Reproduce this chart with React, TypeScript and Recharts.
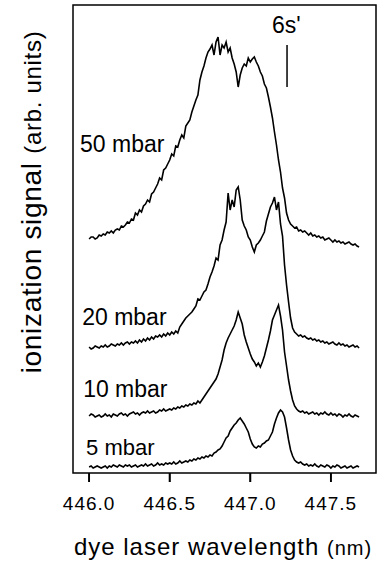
import { LineChart, Line, XAxis, YAxis, ReferenceArea, ReferenceLine, ReferenceDot } from 'recharts';

// wavelength grid (nm), 0.0125 nm steps
const wavelength = [
  446.0, 446.0125, 446.025, 446.0375, 446.05, 446.0625, 446.075, 446.0875,
  446.1, 446.1125, 446.125, 446.1375, 446.15, 446.1625, 446.175, 446.1875,
  446.2, 446.2125, 446.225, 446.2375, 446.25, 446.2625, 446.275, 446.2875,
  446.3, 446.3125, 446.325, 446.3375, 446.35, 446.3625, 446.375, 446.3875,
  446.4, 446.4125, 446.425, 446.4375, 446.45, 446.4625, 446.475, 446.4875,
  446.5, 446.5125, 446.525, 446.5375, 446.55, 446.5625, 446.575, 446.5875,
  446.6, 446.6125, 446.625, 446.6375, 446.65, 446.6625, 446.675, 446.6875,
  446.7, 446.7125, 446.725, 446.7375, 446.75, 446.7625, 446.775, 446.7875,
  446.8, 446.8125, 446.825, 446.8375, 446.85, 446.8625, 446.875, 446.8875,
  446.9, 446.9125, 446.925, 446.9375, 446.95, 446.9625, 446.975, 446.9875,
  447.0, 447.0125, 447.025, 447.0375, 447.05, 447.0625, 447.075, 447.0875,
  447.1, 447.1125, 447.125, 447.1375, 447.15, 447.1625, 447.175, 447.1875,
  447.2, 447.2125, 447.225, 447.2375, 447.25, 447.2625, 447.275, 447.2875,
  447.3, 447.3125, 447.325, 447.3375, 447.35, 447.3625, 447.375, 447.3875,
  447.4, 447.4125, 447.425, 447.4375, 447.45, 447.4625, 447.475, 447.4875,
  447.5, 447.5125, 447.525, 447.5375, 447.55, 447.5625, 447.575, 447.5875,
  447.6, 447.6125, 447.625, 447.6375, 447.65, 447.6625, 447.675,
];

// ionization signal above each trace's own baseline (arb. units)
const signal50 = [
  -1, 1, 1, -1, 0, 3, 2, 4, 3, 6,
  5, 7, 5, 8, 9, 8, 12, 11, 13, 16,
  15, 19, 18, 25, 23, 28, 26, 32, 34, 38,
  36, 44, 46, 50, 54, 60, 58, 68, 70, 74,
  78, 84, 82, 92, 91, 98, 103, 100, 112, 115,
  118, 126, 132, 138, 143, 158, 166, 172, 180, 186,
  189, 193, 183, 196, 201, 183, 193, 190, 196, 186,
  190, 180, 174, 166, 151, 163, 170, 174, 172, 180,
  176, 179, 181, 176, 172, 166, 162, 154, 150, 141,
  131, 120, 106, 93, 78, 66, 50, 40, 25, 18,
  14, 12, 10, 11, 7, 8, 6, 7, 5, 3,
  5, 2, 3, 1, 2, 0, 1, -2, -1, 0,
  -2, -4, -2, -4, -3, -5, -4, -6, -5, -4,
  -6, -7, -6, -8, -9,
];
const signal20 = [
  -1, -3, -2, 0, -1, -2, 0, -1, 1, -1,
  0, 2, 1, 0, 2, 1, 3, 1, 3, 4,
  2, 4, 3, 5, 3, 6, 4, 7, 5, 8,
  6, 9, 7, 10, 9, 11, 9, 12, 10, 13,
  11, 14, 12, 15, 13, 19, 22, 25, 28, 30,
  32, 34, 37, 40, 47, 46, 50, 54, 56, 62,
  69, 74, 80, 88, 86, 101, 106, 116, 124, 153,
  136, 146, 139, 156, 159, 146, 126, 120, 116, 109,
  106, 99, 94, 101, 103, 106, 110, 114, 125, 132,
  139, 143, 149, 136, 144, 122, 110, 81, 61, 44,
  28, 18, 14, 12, 10, 11, 9, 10, 8, 7,
  8, 6, 7, 5, 6, 4, 5, 3, 4, 2,
  3, 4, 2, 1, 3, 1, 2, 0, 1, -1,
  0, 1, -1, 0, -2,
];
const signal10 = [
  -1, 1, 0, -2, -1, 0, -2, -1, 1, -1,
  0, -2, 1, 0, -1, 1, 2, 0, 1, -1,
  1, 2, 3, 1, 2, 0, 2, 3, 2, 4,
  2, 3, 4, 2, 3, 5, 4, 6, 4, 5,
  6, 5, 7, 6, 8, 7, 9, 8, 10, 9,
  11, 10, 12, 11, 14, 12, 15, 18, 21, 24,
  27, 30, 33, 36, 41, 48, 55, 65, 72, 77,
  81, 85, 89, 95, 103, 97, 91, 80, 73, 67,
  61, 56, 53, 49, 52, 48, 53, 59, 67, 75,
  84, 95, 100, 105, 110, 99, 85, 63, 49, 35,
  24, 15, 9, 6, 4, 3, 4, 2, 3, 1,
  2, 3, 1, 2, 0, 2, 1, 3, 1, 0,
  2, 0, 1, -1, 1, 0, -2, 0, -1, 1,
  -1, -2, 0, -1, -2,
];
const signal5 = [
  0, 1, -1, 0, 1, 0, -1, 0, 1, -1,
  1, 0, 2, 1, 0, 2, 1, 0, 2, 1,
  2, 0, 1, 2, 0, 1, 2, 1, 3, 1,
  2, 3, 1, 2, 4, 2, 3, 2, 4, 3,
  4, 3, 5, 3, 4, 6, 4, 5, 6, 5,
  7, 6, 8, 7, 9, 8, 10, 9, 11, 10,
  12, 11, 14, 15, 17, 18, 21, 25, 29, 31,
  36, 39, 42, 44, 47, 49, 46, 43, 39, 35,
  28, 23, 20, 19, 21, 20, 23, 24, 26, 27,
  31, 35, 43, 49, 54, 57, 55, 50, 39, 27,
  17, 11, 7, 5, 4, 5, 3, 2, 3, 1,
  2, 1, 3, 1, 0, 2, 1, 0, 2, 1,
  -1, 1, 0, 2, 1, -1, 0, 1, -1, 0,
  1, -1, 0, 1, 0,
];

// vertical offsets used to stack the traces
const offsets = [235, 127, 58, 6];
const traceNames = ['50 mbar', '20 mbar', '10 mbar', '5 mbar'];
const xTicks = [446.0, 446.5, 447.0, 447.5];

const series = [signal50, signal20, signal10, signal5];
const keys = ['p50', 'p20', 'p10', 'p5'];

const data = wavelength.map((w, i) => {
  const row: Record<string, number> = { w };
  series.forEach((s, j) => {
    row[keys[j]] = s[i] + offsets[j];
  });
  return row;
});

const X_DOMAIN: [number, number] = [445.9, 447.78];
// frame spans 0..468; the strip below 0 holds the outward tick marks
const FRAME: [number, number] = [0, 468];
const Y_DOMAIN: [number, number] = [-9, 468];
const FONT = '"Liberation Sans", Arial, Helvetica, sans-serif';

// where the trace names sit (data coords, left edge / baseline)
const labelSpots = [
  { x: 445.944, y: 321, size: 23 },
  { x: 445.957, y: 148, size: 23 },
  { x: 445.963, y: 76, size: 23 },
  { x: 445.981, y: 18, size: 22 },
];

const textLabel = (text: string, size: number) => (props: any) => {
  const vb = props.viewBox || {};
  return (
    <text x={vb.x} y={vb.y} fontSize={size} fontFamily={FONT} fill="#000">
      {text}
    </text>
  );
};

// outward tick mark and value, hung below the frame at the tick position
const tickValue = (v: number) => (props: any) => {
  const vb = props.viewBox || {};
  return (
    <g>
      <rect x={vb.x - 0.9} y={vb.y} width={1.8} height={9} fill="#000" />
      <text
        x={vb.x}
        y={vb.y + 37}
        textAnchor="middle"
        fontSize={19}
        letterSpacing={1}
        fontFamily={FONT}
        fill="#000"
      >
        {v.toFixed(1)}
      </text>
    </g>
  );
};

const AxisTitles = () => (
  <g>
    <text x={223} y={555} textAnchor="middle" fontSize={24} letterSpacing={1} fontFamily={FONT} fill="#000">
      dye laser wavelength <tspan fontSize={20}>(nm)</tspan>
    </text>
    <text
      x={41}
      y={202}
      transform="rotate(-90 41 202)"
      textAnchor="middle"
      fontSize={28}
      letterSpacing={0.7}
      fontFamily={FONT}
      fill="#000"
    >
      ionization signal{'  '}
      <tspan fontSize={24}>(arb. units)</tspan>
    </text>
  </g>
);

export default function App() {
  return (
    <div style={{ position: 'absolute', left: 0, top: 0, background: '#fff' }}>
      <LineChart
        width={378}
        height={565}
        data={data}
        margin={{ top: 5, right: 2, bottom: 0, left: 73 }}
      >
        <XAxis
          dataKey="w"
          type="number"
          domain={X_DOMAIN}
          ticks={xTicks}
          height={83}
          axisLine={false}
          tickLine={false}
          tick={false}
          label={{ content: () => <AxisTitles /> }}
        />
        <YAxis
          type="number"
          domain={Y_DOMAIN}
          allowDataOverflow
          width={0}
          axisLine={false}
          tickLine={false}
          tick={false}
        />
        <ReferenceArea
          x1={X_DOMAIN[0]}
          x2={X_DOMAIN[1]}
          y1={FRAME[0]}
          y2={FRAME[1]}
          fill="none"
          stroke="#000"
          strokeWidth={1.5}
        />
        {keys.map((k) => (
          <Line
            key={k}
            dataKey={k}
            type="linear"
            stroke="#000"
            strokeWidth={1.6}
            dot={false}
            isAnimationActive={false}
          />
        ))}
        <ReferenceLine
          segment={[{ x: 447.228, y: 428 }, { x: 447.228, y: 386 }]}
          stroke="#000"
          strokeWidth={1.5}
        />
        {xTicks.map((t) => (
          <ReferenceLine
            key={'tl' + t}
            segment={[{ x: t, y: FRAME[0] }, { x: t, y: Y_DOMAIN[0] }]}
            ifOverflow="visible"
            stroke="#000"
            strokeWidth={1.6}
          />
        ))}
        {xTicks.map((t) => (
          <ReferenceDot
            key={t}
            x={t}
            y={FRAME[0]}
            r={0}
            fill="none"
            stroke="none"
            label={{ content: tickValue(t) }}
          />
        ))}
        <ReferenceDot x={447.135} y={440} r={0} fill="none" stroke="none" label={{ content: textLabel("6s'", 23) }} />
        {traceNames.map((name, i) => (
          <ReferenceDot
            key={name}
            x={labelSpots[i].x}
            y={labelSpots[i].y}
            r={0}
            fill="none"
            stroke="none"
            label={{ content: textLabel(name, labelSpots[i].size) }}
          />
        ))}
      </LineChart>
    </div>
  );
}
